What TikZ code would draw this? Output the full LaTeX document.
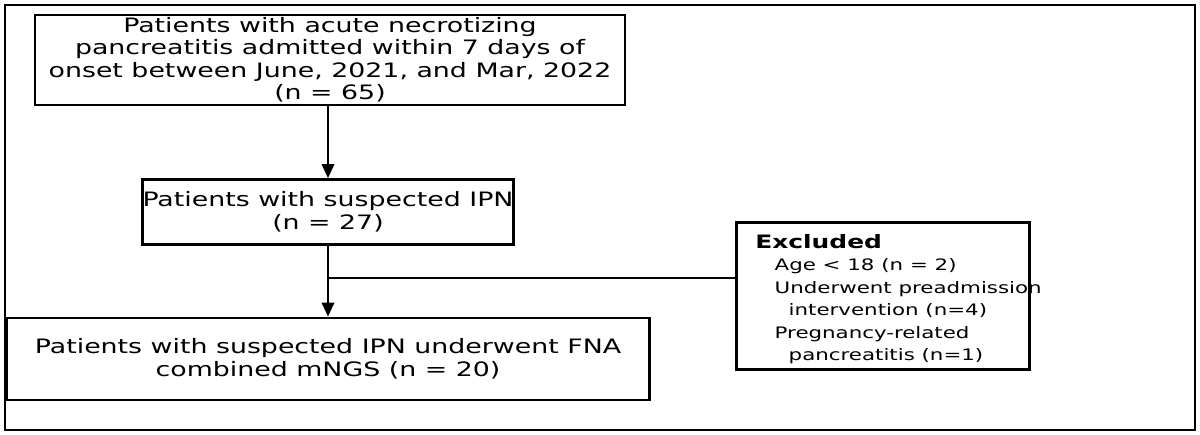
\documentclass[tikz,border=0pt]{standalone}
\usepackage{fontspec}
\setmainfont[FakeStretch=1.35]{DejaVu Sans}
\usetikzlibrary{arrows.meta}
\begin{document}
\begin{tikzpicture}[x=0.02cm,y=-0.02cm,
  box/.style={draw,line width=1.5pt,inner sep=0pt,align=center,font=\fontsize{11.3}{12.8}\selectfont},
  arr/.style={line width=1.5pt,-{Triangle[length=8pt,width=7pt]}}]
\useasboundingbox (0,0) rectangle (1200,435);
\draw[line width=0.8pt] (5,5) rectangle (1195,430);
\node[box,minimum width=590*0.02cm,minimum height=90*0.02cm] (b1) at (330,60)
 {Patients with acute necrotizing\\pancreatitis admitted within 7 days of\\onset between June, 2021, and Mar, 2022\\(n = 65)};
\node[box,minimum width=367*0.02cm,minimum height=65*0.02cm] (b2) at (328,212)
 {Patients with suspected IPN\\(n = 27)};
\node[box,minimum width=643*0.02cm,minimum height=82*0.02cm] (b3) at (328,359)
 {Patients with suspected IPN underwent FNA\\combined mNGS (n = 20)};
\node[box,minimum width=293*0.02cm,minimum height=147*0.02cm] (ex) at (883,296) {};
\node[anchor=north west,inner sep=0pt,align=left,font=\fontsize{9}{12.8}\selectfont] (ext) at (755,234)
 {{\fontsize{10.5}{12.8}\selectfont\textbf{Excluded}}\\
 \hspace*{11pt}Age < 18 (n = 2)\\
 \hspace*{11pt}Underwent preadmission\\
 \hspace*{19pt}intervention (n=4)\\
 \hspace*{11pt}Pregnancy-related\\
 \hspace*{19pt}pancreatitis (n=1)};
\draw[arr] (b1.south -| b2.north) -- (b2.north);
\draw[arr] (b2.south) -- (b3.north);
\coordinate (m) at (328,278);
\draw[line width=1.5pt] (m) -- (m -| ex.west);
\end{tikzpicture}
\end{document}
